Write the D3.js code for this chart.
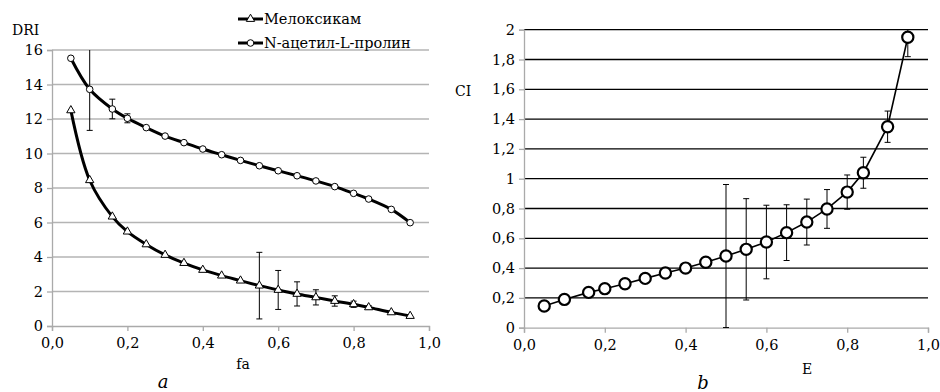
<!DOCTYPE html>
<html>
<head>
<meta charset="utf-8">
<script src="https://cdn.jsdelivr.net/npm/d3@7"></script>
</head>
<body style="margin:0;background:#fff">
<svg id="chart" width="940" height="392" font-family="DejaVu Serif"></svg>
<script>
// fractions affected (fa / E)
var fa = [0.05, 0.1, 0.16, 0.2, 0.25, 0.3, 0.35, 0.4, 0.45, 0.5, 0.55, 0.6, 0.65, 0.7, 0.75, 0.8, 0.84, 0.9, 0.95];

// panel a: DRI
var meloxicam = [12.5, 8.45, 6.34, 5.47, 4.73, 4.12, 3.65, 3.25, 2.92, 2.63, 2.34, 2.09, 1.86, 1.66, 1.45, 1.26, 1.08, 0.79, 0.58];
var meloxicamErr = [0, 0, 0, 0, 0, 0, 0, 0, 0, 0, 1.93, 1.13, 0.7, 0.44, 0.3, 0.18, 0.1, 0, 0];
var acetylProline = [15.52, 13.72, 12.58, 12.04, 11.5, 11.01, 10.63, 10.26, 9.93, 9.6, 9.29, 9.0, 8.71, 8.41, 8.08, 7.69, 7.36, 6.76, 5.99];
var acetylProlineErr = [0, 2.38, 0.57, 0.26, 0, 0, 0, 0, 0, 0, 0, 0, 0, 0, 0, 0, 0, 0, 0];

// panel b: CI
var ci = [0.146, 0.19, 0.237, 0.262, 0.295, 0.331, 0.367, 0.40, 0.439, 0.481, 0.526, 0.575, 0.638, 0.709, 0.797, 0.91, 1.04, 1.349, 1.949];
var ciErr = [0, 0, 0, 0, 0, 0, 0, 0, 0, 0.48, 0.34, 0.247, 0.187, 0.154, 0.13, 0.115, 0.104, 0.105, 0.13];

var xTicks = [0, 0.2, 0.4, 0.6, 0.8, 1.0];
var yTicksA = [0, 2, 4, 6, 8, 10, 12, 14, 16];
var yTicksB = [0, 0.2, 0.4, 0.6, 0.8, 1, 1.2, 1.4, 1.6, 1.8, 2];

var FONT = "DejaVu Serif";
var svg = d3.select("#chart");
var comma = function (d) { return String(d).replace(".", ","); };
var comma1 = function (d) { return d3.format(".1f")(d).replace(".", ","); };

function label(g, txt, x, y, size, anchor, italic) {
    var t = g.append("text").text(txt)
        .attr("x", x).attr("y", y)
        .attr("text-anchor", anchor || "start")
        .attr("fill", "#000")
        .attr("font-family", FONT)
        .attr("font-size", size);
    if (italic) t.attr("font-style", "italic");
    return t;
}

function drawAxes(g, x, y, yTicks, gridColor) {
    var x0 = x.range()[0], x1 = x.range()[1];
    g.selectAll(".grid").data(yTicks.filter(function (d) { return d > 0; })).enter()
        .append("line")
        .attr("x1", x0).attr("x2", x1)
        .attr("y1", function (d) { return y(d); }).attr("y2", function (d) { return y(d); })
        .attr("stroke", gridColor).attr("stroke-width", 1.3);

    var xa = g.append("g")
        .attr("transform", "translate(0," + y(0) + ")")
        .call(d3.axisBottom(x).tickValues(xTicks).tickFormat(comma1).tickSize(5).tickPadding(7));
    var ya = g.append("g")
        .attr("transform", "translate(" + x0 + ",0)")
        .call(d3.axisLeft(y).tickValues(yTicks).tickFormat(comma).tickSize(5).tickPadding(4));
    [xa, ya].forEach(function (a) {
        a.attr("font-family", FONT).attr("font-size", 14.5);
        a.selectAll("path, line").attr("stroke", "#aaa").attr("stroke-width", 1.3);
        a.selectAll("text").attr("fill", "#000");
    });
}

function errorBars(g, x, y, vals, errs, yMax) {
    var data = fa.map(function (d, i) { return { x: d, v: vals[i], e: errs[i] }; })
        .filter(function (d) { return d.e > 0; });
    var eb = g.selectAll(".eb").data(data).enter().append("g");
    eb.append("line")
        .attr("x1", function (d) { return x(d.x); }).attr("x2", function (d) { return x(d.x); })
        .attr("y1", function (d) { return y(Math.min(yMax, d.v + d.e)); })
        .attr("y2", function (d) { return y(Math.max(0, d.v - d.e)); })
        .attr("stroke", "#000").attr("stroke-width", 1);
    eb.filter(function (d) { return d.v + d.e <= yMax; }).append("line")
        .attr("x1", function (d) { return x(d.x) - 3; }).attr("x2", function (d) { return x(d.x) + 3; })
        .attr("y1", function (d) { return y(d.v + d.e); }).attr("y2", function (d) { return y(d.v + d.e); })
        .attr("stroke", "#000").attr("stroke-width", 1);
    eb.filter(function (d) { return d.v - d.e >= 0; }).append("line")
        .attr("x1", function (d) { return x(d.x) - 3; }).attr("x2", function (d) { return x(d.x) + 3; })
        .attr("y1", function (d) { return y(d.v - d.e); }).attr("y2", function (d) { return y(d.v - d.e); })
        .attr("stroke", "#000").attr("stroke-width", 1);
}

// ---------- panel a ----------
var xA = d3.scaleLinear().domain([0, 1]).range([52, 429]);
var yA = d3.scaleLinear().domain([0, 16]).range([326, 50]);
var gA = svg.append("g");
drawAxes(gA, xA, yA, yTicksA, "#b4b4b4");

var lineA = d3.line().curve(d3.curveCatmullRom)
    .x(function (d) { return xA(d[0]); }).y(function (d) { return yA(d[1]); });

errorBars(gA, xA, yA, meloxicam, meloxicamErr, 16);
errorBars(gA, xA, yA, acetylProline, acetylProlineErr, 16);

gA.append("path").datum(fa.map(function (d, i) { return [d, meloxicam[i]]; }))
    .attr("d", lineA).attr("fill", "none").attr("stroke", "#000").attr("stroke-width", 3);
gA.append("path").datum(fa.map(function (d, i) { return [d, acetylProline[i]]; }))
    .attr("d", lineA).attr("fill", "none").attr("stroke", "#000").attr("stroke-width", 3);

var tri = d3.symbol().type(d3.symbolTriangle).size(30);
gA.selectAll(".tri").data(fa).enter().append("path")
    .attr("d", tri)
    .attr("transform", function (d, i) { return "translate(" + xA(d) + "," + yA(meloxicam[i]) + ")"; })
    .attr("fill", "#fff").attr("stroke", "#000").attr("stroke-width", 1);
gA.selectAll(".circ").data(fa).enter().append("circle")
    .attr("cx", function (d) { return xA(d); })
    .attr("cy", function (d, i) { return yA(acetylProline[i]); })
    .attr("r", 3.3).attr("fill", "#fff").attr("stroke", "#000").attr("stroke-width", 1);

label(gA, "DRI", 12, 35, 14);
label(gA, "fa", 243, 369, 14, "middle");
label(gA, "a", 163, 388, 18, "middle", true);

// legend
var legend = [{ name: "Мелоксикам", y: 19, mark: "tri" }, { name: "N-ацетил-L-пролин", y: 43, mark: "circ" }];
var lg = gA.selectAll(".lg").data(legend).enter().append("g")
    .attr("transform", function (d) { return "translate(0," + d.y + ")"; });
lg.append("line").attr("x1", 238).attr("x2", 263).attr("y1", 0).attr("y2", 0)
    .attr("stroke", "#000").attr("stroke-width", 3);
lg.filter(function (d) { return d.mark === "tri"; }).append("path")
    .attr("d", tri).attr("transform", "translate(250.5,0)")
    .attr("fill", "#fff").attr("stroke", "#000").attr("stroke-width", 1);
lg.filter(function (d) { return d.mark === "circ"; }).append("circle")
    .attr("cx", 250.5).attr("cy", 0).attr("r", 3.3)
    .attr("fill", "#fff").attr("stroke", "#000").attr("stroke-width", 1);
lg.append("text").text(function (d) { return d.name; })
    .attr("x", 264).attr("y", 5).attr("fill", "#000")
    .attr("font-family", FONT).attr("font-size", 14.5);

// ---------- panel b ----------
var xB = d3.scaleLinear().domain([0, 1]).range([524, 928]);
var yB = d3.scaleLinear().domain([0, 2]).range([327.7, 29.7]);
var gB = svg.append("g");
drawAxes(gB, xB, yB, yTicksB, "#000");

errorBars(gB, xB, yB, ci, ciErr, 2);

var lineB = d3.line()
    .x(function (d) { return xB(d[0]); }).y(function (d) { return yB(d[1]); });
gB.append("path").datum(fa.map(function (d, i) { return [d, ci[i]]; }))
    .attr("d", lineB).attr("fill", "none").attr("stroke", "#000").attr("stroke-width", 1.6);
gB.selectAll(".circ").data(fa).enter().append("circle")
    .attr("cx", function (d) { return xB(d); })
    .attr("cy", function (d, i) { return yB(ci[i]); })
    .attr("r", 5.6).attr("fill", "#fff").attr("stroke", "#000").attr("stroke-width", 2.2);

label(gB, "CI", 455, 96, 14);
label(gB, "E", 807, 374, 14, "middle");
label(gB, "b", 703, 389, 18, "middle", true);
</script>
</body>
</html>
